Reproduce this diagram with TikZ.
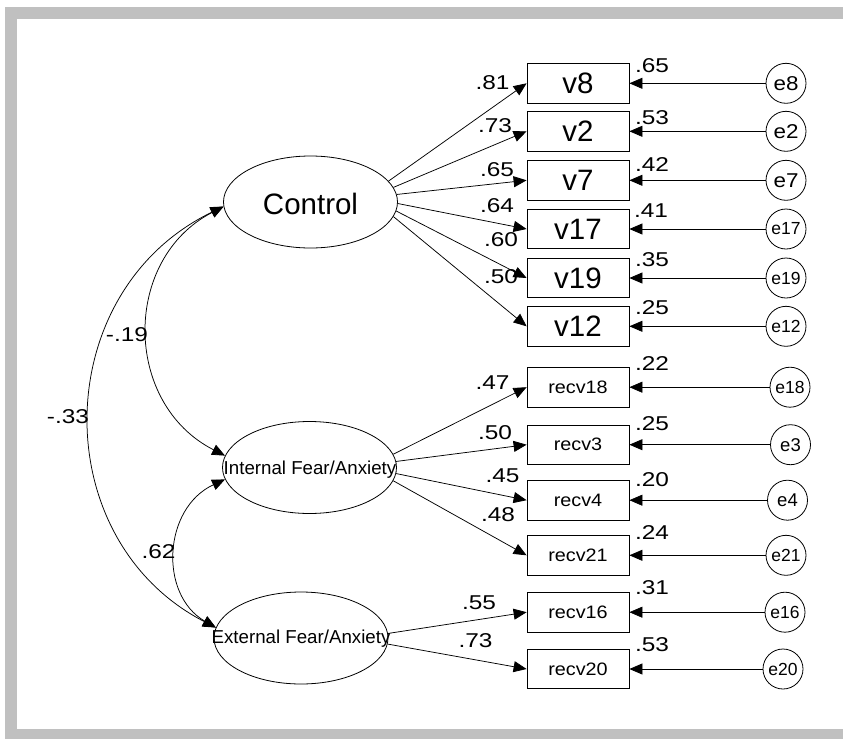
\documentclass[tikz,border=0pt]{standalone}
\usepackage{fontspec}
\setmainfont{Liberation Sans}
\newfontfamily\coeffont[FakeStretch=1.22]{Liberation Sans}
\newfontfamily\recvfont[FakeStretch=1.1]{Liberation Sans}
\newfontfamily\efont[FakeStretch=1.12]{Liberation Sans}
\usetikzlibrary{shapes.geometric,arrows.meta}
\definecolor{framegray}{HTML}{C0C0C0}
\tikzset{
  lat/.style={draw, ellipse, minimum width=174pt, minimum height=92pt, inner sep=0pt, line width=0.8pt},
  obs/.style={draw, rectangle, minimum width=102pt, minimum height=39.5pt, inner sep=0pt, line width=0.8pt},
  errc/.style={draw, circle, minimum size=40pt, inner sep=0pt, line width=0.8pt},
  loadarrow/.style={-{Triangle[length=13pt,width=11pt]}, line width=0.75pt},
  covarrow/.style={{Triangle[length=13pt,width=11pt]}-{Triangle[length=13pt,width=11pt]}, line width=0.75pt},
  coef/.style={inner sep=0pt, font=\coeffont\fontsize{20}{21}\selectfont},
  bigtxt/.style={font=\fontsize{29.5}{30}\selectfont},
  lattxt/.style={font=\fontsize{18.7}{19}\selectfont},
  recvtxt/.style={font=\recvfont\fontsize{18}{19}\selectfont},
  eA/.style={font=\efont\fontsize{20}{21}\selectfont},
  eB/.style={font=\fontsize{18.5}{19}\selectfont},
  eC/.style={font=\fontsize{17.5}{18}\selectfont}
}
\begin{document}
\begin{tikzpicture}[x=1pt,y=-1pt]
\useasboundingbox (0,0) rectangle (843,739);
% frame
\fill[framegray] (5,7) rectangle (843,19);
\fill[framegray] (5,7) rectangle (17,739);
\fill[framegray] (5,729) rectangle (843,739);

% latent variables
\node[lat] (ctrl) at (310.5,202) {};
\node[lat] (int) at (309.5,467.5) {};
\node[lat] (ext) at (301,638) {};
\node[bigtxt, inner sep=0pt] (ctrlt) at (310.5,204) {Control};
\node[lattxt, inner sep=0pt] (intt) at (310,470) {Internal Fear/Anxiety};
\node[lattxt, inner sep=0pt] (extt) at (301,639) {External Fear/Anxiety};

% observed
\node[obs, bigtxt] (v8) at (578,83.3) {v8};
\node[obs, bigtxt] (v2) at (578,131.3) {v2};
\node[obs, bigtxt] (v7) at (578,180.3) {v7};
\node[obs, bigtxt] (v17) at (578,229) {v17};
\node[obs, bigtxt] (v19) at (578,278) {v19};
\node[obs, bigtxt] (v12) at (578,326.3) {v12};
\node[obs, recvtxt] (r18) at (578,387.2) {recv18};
\node[obs, recvtxt] (r3) at (578,444.7) {recv3};
\node[obs, recvtxt] (r4) at (578,500.2) {recv4};
\node[obs, recvtxt] (r21) at (578,555.3) {recv21};
\node[obs, recvtxt] (r16) at (578,612.2) {recv16};
\node[obs, recvtxt] (r20) at (578,669) {recv20};

% errors
\node[errc, eA] (e8) at (786,83.3) {e8};
\node[errc, eA] (e2) at (786,131.3) {e2};
\node[errc, eA] (e7) at (786,180.3) {e7};
\node[errc, eC] (e17) at (786,229) {e17};
\node[errc, eC] (e19) at (786,278) {e19};
\node[errc, eC] (e12) at (786,326.3) {e12};
\node[errc, eC] (e18) at (790,387.2) {e18};
\node[errc, eB] (e3) at (790.5,444.7) {e3};
\node[errc, eB] (e4) at (787.5,500.2) {e4};
\node[errc, eC] (e21) at (786,555.3) {e21};
\node[errc, eC] (e16) at (785,612.2) {e16};
\node[errc, eC] (e20) at (783,669) {e20};

% loadings
\draw[loadarrow] (ctrl.15) -- (v8.west);
\draw[loadarrow] (ctrl.10) -- (v2.west);
\draw[loadarrow] (ctrl.5) -- (v7.west);
\draw[loadarrow] (ctrl.-1) -- (v17.west);
\draw[loadarrow] (ctrl.-6) -- (v19.west);
\draw[loadarrow] (ctrl.-10) -- (v12.west);
\draw[loadarrow] (int.9) -- (r18.west);
\draw[loadarrow] (int.4) -- (r3.west);
\draw[loadarrow] (int.-4) -- (r4.west);
\draw[loadarrow] (int.-9) -- (r21.west);
\draw[loadarrow] (ext.3) -- (r16.west);
\draw[loadarrow] (ext.-4) -- (r20.west);

% error paths
\foreach \e/\b in {e8/v8,e2/v2,e7/v7,e17/v17,e19/v19,e12/v12,e18/r18,e3/r3,e4/r4,e21/r21,e16/r16,e20/r20}
  \draw[loadarrow] (\e.west) -- (\b.east);

% covariances
\draw[covarrow] (ctrl.183) .. controls (122,259) and (122.7,403.5) .. (int.172);
\draw[covarrow] (ctrl.183) .. controls (48.3,291.2) and (44.9,539.5) .. (ext.173);
\draw[covarrow] (int.188) .. controls (163.2,508) and (158.5,594.4) .. (ext.173);

% coefficient labels
\node[coef] at (127,335) {-.19};
\node[coef] at (68,416.5) {-.33};
\node[coef] at (158.5,552) {.62};

\node[coef] at (492.5,83) {.81};
\node[coef] at (495,125.3) {.73};
\node[coef] at (497,170) {.65};
\node[coef] at (497,206) {.64};
\node[coef] at (501,240) {.60};
\node[coef] at (501,277) {.50};
\node[coef] at (492.5,383) {.47};
\node[coef] at (495,432.5) {.50};
\node[coef] at (502.5,475.8) {.45};
\node[coef] at (498,514.2) {.48};
\node[coef] at (479,602.5) {.55};
\node[coef] at (475.5,640.8) {.73};

\node[coef] at (652,65.5) {.65};
\node[coef] at (652,118) {.53};
\node[coef] at (652,164.5) {.42};
\node[coef] at (651,210.7) {.41};
\node[coef] at (652,260) {.35};
\node[coef] at (652,308) {.25};
\node[coef] at (652,363.8) {.22};
\node[coef] at (652,423.8) {.25};
\node[coef] at (652,479.5) {.20};
\node[coef] at (652,532.5) {.24};
\node[coef] at (652,587.5) {.31};
\node[coef] at (652,644.2) {.53};
\end{tikzpicture}
\end{document}
